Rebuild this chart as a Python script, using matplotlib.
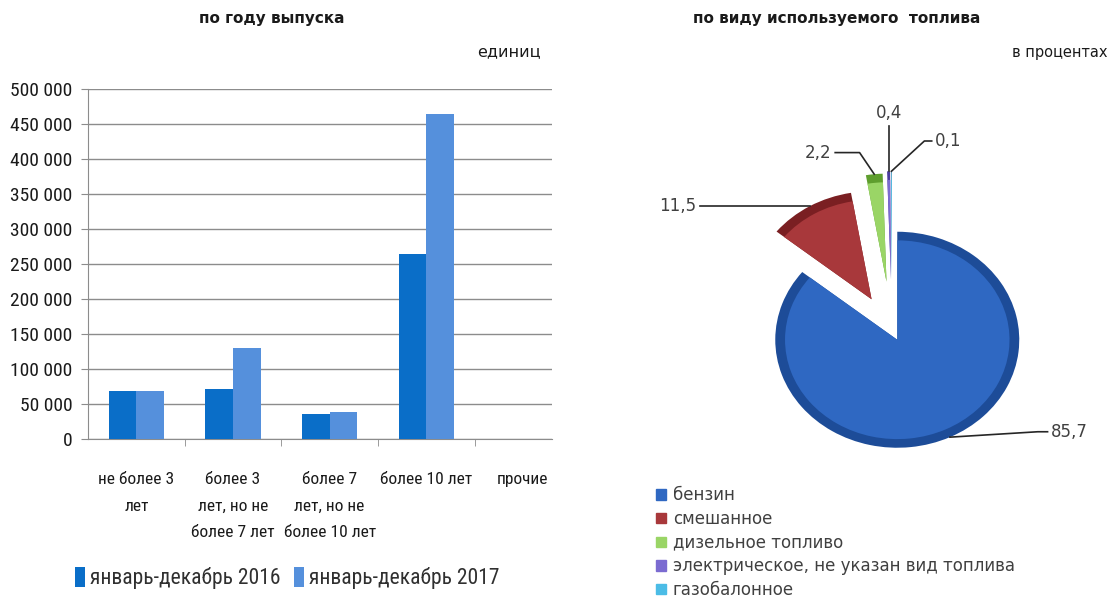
import numpy as np
import matplotlib
matplotlib.use("Agg")
import matplotlib.pyplot as plt
from matplotlib import font_manager as fm
from matplotlib.patches import Patch
from matplotlib.ticker import FuncFormatter

# выпуск по году
categories = ["не более 3\nлет", "более 3\nлет, но не\nболее 7 лет",
              "более 7\nлет, но не\nболее 10 лет", "более 10 лет", "прочие"]
series_names = ["январь-декабрь 2016", "январь-декабрь 2017"]
values_2016 = [68500, 71000, 35500, 264500, 0]
values_2017 = [68500, 130500, 39000, 465000, 0]
y_ticks = [0, 50000, 100000, 150000, 200000, 250000, 300000, 350000, 400000, 450000, 500000]

# структура по виду топлива, %
fuel_names = ["бензин", "смешанное", "дизельное топливо",
              "электрическое, не указан вид топлива", "газобалонное"]
fuel_share = [85.7, 11.5, 2.2, 0.4, 0.1]
fuel_labels = ["85,7", "11,5", "2,2", "0,4", "0,1"]

bar_colors = ["#0a6ec8", "#5590dc"]
fuel_dark = ["#1d4c98", "#7a1f22", "#5f9e2e", "#4a3c9c", "#2a8fb8"]
fuel_light = ["#2f68c2", "#a8383b", "#9ad566", "#7b6bd1", "#4bbce6"]

# узкий шрифт для подписей осей, если есть
fonts = fm.fontManager.ttflist
names = {f.name for f in fonts}
NARROW = {"family": ["DejaVu Sans"], "stretch": "normal"}
for cand in ["Liberation Sans Narrow", "Roboto Condensed", "Open Sans Condensed"]:
    if cand in names:
        NARROW = {"family": [cand, "DejaVu Sans"], "stretch": "normal"}
        break
else:
    if any(f.name == "DejaVu Sans" and f.stretch == "condensed" for f in fonts):
        NARROW = {"family": ["DejaVu Sans"], "stretch": "condensed"}

W, H = 1117, 598
fig = plt.figure(figsize=(W / 100, H / 100), dpi=100)


def box(x0, y0, x1, y1):
    return [x0 / W, 1 - y1 / H, (x1 - x0) / W, (y1 - y0) / H]


# ---- столбчатая диаграмма ----
ax = fig.add_axes(box(88, 89, 552, 439))
x = np.arange(len(categories))
bw = 0.285
ax.bar(x - bw / 2, values_2016, bw, color=bar_colors[0], label=series_names[0], zorder=3)
ax.bar(x + bw / 2, values_2017, bw, color=bar_colors[1], label=series_names[1], zorder=3)
ax.set_xlim(-0.5, 4.3)
ax.set_ylim(0, 500000)
ax.set_yticks(y_ticks)
ax.yaxis.set_major_formatter(FuncFormatter(lambda v, p: f"{int(v):,}".replace(",", " ")))
ax.grid(axis="y", color="#8c8c8c", lw=1, zorder=0)
for s in ["top", "right"]:
    ax.spines[s].set_visible(False)
for s in ["left", "bottom"]:
    ax.spines[s].set_color("#8c8c8c")
ax.set_xticks(x)
ax.set_xticklabels(categories, fontfamily=NARROW["family"], fontstretch=NARROW["stretch"],
                   fontsize=12.5, linespacing=1.95, va="top", color="#1a1a1a")
ax.set_xticks(np.arange(len(categories) - 1) + 0.5, minor=True)
ax.tick_params(axis="x", which="major", length=0, pad=24)
ax.tick_params(axis="x", which="minor", length=5, color="#8c8c8c")
ax.tick_params(axis="y", length=5, color="#8c8c8c", pad=6)
for t in ax.get_yticklabels():
    t.set_fontfamily(NARROW["family"])
    t.set_fontstretch(NARROW["stretch"])
    t.set_fontsize(14)
    t.set_color("#1a1a1a")

fig.legend(loc="center left", bbox_to_anchor=(56 / W, 1 - 578 / H), ncol=2, frameon=False,
           prop={"family": NARROW["family"], "stretch": NARROW["stretch"], "size": 15.5},
           handlelength=0.45, handleheight=1.1, handletextpad=0.25, columnspacing=0.6,
           labelcolor="#303030")

fig.text(272 / W, 1 - 19 / H, "по году выпуска", ha="center", va="center",
         fontsize=11, fontweight="bold", color="#1a1a1a")
fig.text(541 / W, 1 - 52 / H, "единиц", ha="right", va="center", fontsize=11.5, color="#1a1a1a")

# ---- круговая диаграмма ----
cx, cy, rx, ry = 892, 330, 122, 108
x0, x1, y0, y1 = 640, 1117, 100, 470
pax = fig.add_axes(box(x0, y0, x1, y1))

explode = [0.1, 0.33, 0.45, 0.47, 0.47]
base, _ = pax.pie(fuel_share, explode=explode, colors=fuel_dark, startangle=90,
                  counterclock=False, radius=1.0, frame=True)
top, _ = pax.pie(fuel_share, explode=explode, colors=fuel_light, startangle=90,
                 counterclock=False, radius=0.92, frame=True)
pax.axis("off")
pax.set_aspect("auto")
pax.set_xlim((x0 - cx) / rx, (x1 - cx) / rx)
pax.set_ylim((cy - y1) / ry, (cy - y0) / ry)

# выноски: точка на внешней дуге сектора, излом и подпись
leaders = [
    # (смещение излома, длина полки, выравнивание)
    ((0.72, 0.05), 0.08, "left"),
    ((-0.05, 0.0), -0.85, "right"),
    ((-0.12, 0.2), -0.2, "right"),
    ((0.0, 0.42), 0.0, "center"),
    ((0.27, 0.28), 0.06, "left"),
]
for w, lab, (elbow, shelf, ha) in zip(base, fuel_labels, leaders):
    ang = np.deg2rad((w.theta1 + w.theta2) / 2)
    ax0 = w.center[0] + w.r * np.cos(ang)
    ay0 = w.center[1] + w.r * np.sin(ang)
    ex, ey = ax0 + elbow[0], ay0 + elbow[1]
    sx, sy = ex + shelf, ey
    pax.plot([ax0, ex, sx], [ay0, ey, sy], color="#262626", lw=1.2, clip_on=False)
    if ha == "center":
        pax.text(sx, sy + 0.04, lab, ha="center", va="bottom", fontsize=12, color="#404040")
    else:
        off = 0.03 if ha == "left" else -0.03
        pax.text(sx + off, sy, lab, ha=ha, va="center", fontsize=12, color="#404040")

fig.legend([Patch(color=c) for c in fuel_light], fuel_names, loc="upper left",
           bbox_to_anchor=(648 / W, 1 - 478 / H), frameon=False, fontsize=12,
           labelcolor="#404040", handlelength=0.6, handleheight=0.6,
           handletextpad=0.4, labelspacing=0.34, borderpad=0)

fig.text(837 / W, 1 - 19 / H, "по виду используемого  топлива", ha="center", va="center",
         fontsize=11, fontweight="bold", color="#1a1a1a")
fig.text(1108 / W, 1 - 52 / H, "в процентах", ha="right", va="center", fontsize=10.5, color="#1a1a1a")

fig.savefig("out.png", dpi=100, facecolor="white")
